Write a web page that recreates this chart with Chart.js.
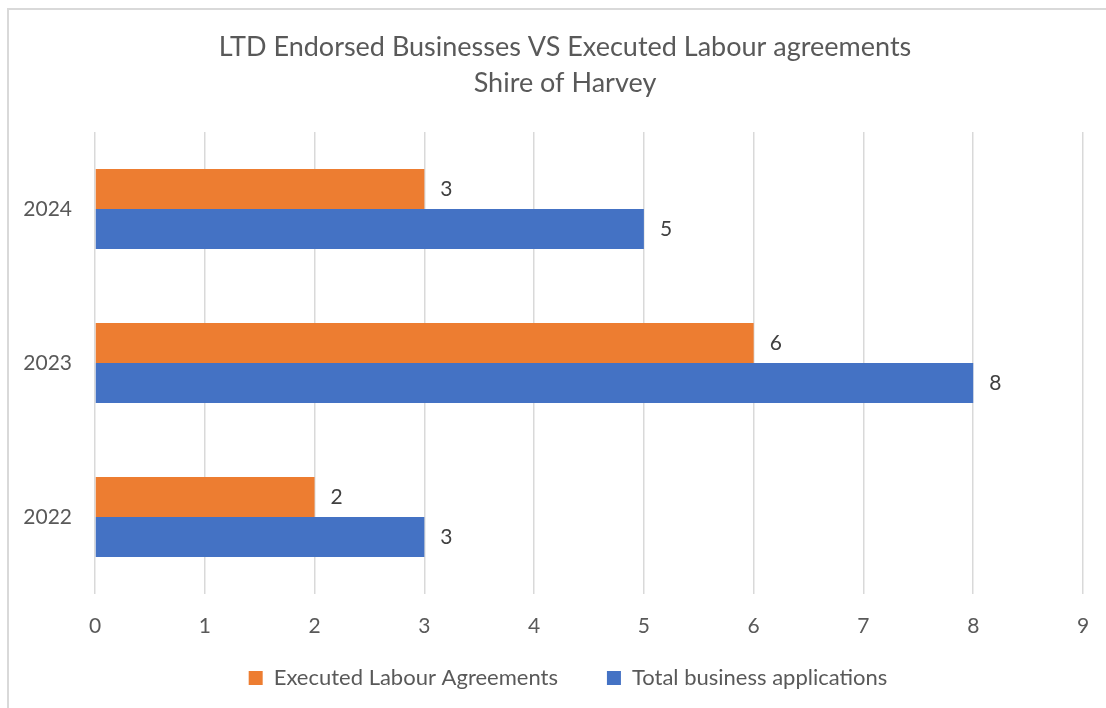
<!DOCTYPE html>
<html lang="en">
<head>
    <meta charset="UTF-8">
    <title>LTD Endorsed Businesses VS Executed Labour agreements</title>
    <script src="https://cdn.jsdelivr.net/npm/chart.js@4.4.1/dist/chart.umd.min.js"></script>
    <style>
        body {
            margin: 0;
            background: #ffffff;
            overflow: hidden;
        }
        /* the original picture is cut off on the right, so the chart is a bit wider than the window */
        .chart-box {
            position: relative;
            width: 1130px;
            height: 708px;
        }
        .frame {
            position: absolute;
            left: 7px;
            top: 8px;
            right: 0;
            bottom: -10px;
            border-left: 2px solid #d9d9d9;
            border-top: 2px solid #d9d9d9;
            pointer-events: none;
        }
    </style>
</head>
<body>
    <div class="chart-box">
        <canvas id="labourChart"></canvas>
        <div class="frame"></div>
    </div>

    <script>
        // categories top to bottom, as in the picture
        const years = ['2024', '2023', '2022'];
        const executedAgreements = [3, 6, 2];
        const totalApplications = [5, 8, 3];
        const xTicks = [0, 1, 2, 3, 4, 5, 6, 7, 8, 9];

        const textColor = '#595959';
        const fontFamily = "Lato, 'Open Sans', sans-serif";
        const legendGap = 49;

        // value labels at the end of each bar
        const barLabels = {
            id: 'barLabels',
            afterDatasetsDraw(chart) {
                const ctx = chart.ctx;
                ctx.save();
                ctx.font = '21px ' + fontFamily;
                ctx.fillStyle = '#404040';
                ctx.textAlign = 'left';
                ctx.textBaseline = 'middle';
                chart.data.datasets.forEach((ds, i) => {
                    chart.getDatasetMeta(i).data.forEach((bar, j) => {
                        ctx.fillText(String(ds.data[j]), bar.x + 16, bar.y);
                    });
                });
                ctx.restore();
            }
        };

        // legend padding is large to space the two items apart;
        // grow the legend box upward so the items are not clipped
        const legendShift = {
            id: 'legendShift',
            afterLayout(chart) {
                const lg = chart.legend;
                if (!lg) return;
                lg.top = lg.bottom - (legendGap + 30);
                lg.height = lg.bottom - lg.top;
                lg.left += 3;
                lg.right += 3;
            }
        };

        const ctx = document.getElementById('labourChart').getContext('2d');
        new Chart(ctx, {
            type: 'bar',
            data: {
                labels: years,
                datasets: [
                    {
                        label: 'Executed Labour Agreements',
                        data: executedAgreements,
                        backgroundColor: '#ED7D31',
                        categoryPercentage: 0.52,
                        barPercentage: 1.0
                    },
                    {
                        label: 'Total business applications',
                        data: totalApplications,
                        backgroundColor: '#4472C4',
                        categoryPercentage: 0.52,
                        barPercentage: 1.0
                    }
                ]
            },
            options: {
                indexAxis: 'y',
                responsive: true,
                maintainAspectRatio: false,
                animation: false,
                layout: {
                    padding: { left: 0, right: 0, top: 0, bottom: 11 }
                },
                plugins: {
                    title: {
                        display: true,
                        text: ['LTD Endorsed Businesses VS Executed Labour agreements', 'Shire of Harvey'],
                        color: textColor,
                        font: { size: 27, family: fontFamily, weight: 'normal', lineHeight: 1.3333 },
                        padding: { top: 29, bottom: 31 }
                    },
                    legend: {
                        position: 'bottom',
                        maxHeight: 40,
                        labels: {
                            color: textColor,
                            font: { size: 22, family: fontFamily },
                            boxWidth: 14,
                            boxHeight: 14,
                            padding: legendGap
                        }
                    },
                    tooltip: { enabled: false }
                },
                scales: {
                    x: {
                        min: 0,
                        max: 9,
                        afterBuildTicks(scale) {
                            scale.ticks = xTicks.map(v => ({ value: v }));
                        },
                        grid: { color: '#d9d9d9', lineWidth: 1.5, drawTicks: false },
                        border: { display: false },
                        ticks: {
                            color: textColor,
                            font: { size: 21, family: fontFamily },
                            padding: 20
                        },
                        afterFit(scale) {
                            scale.height = 63;
                            scale.paddingLeft = 0;
                            scale.paddingRight = 47;
                        }
                    },
                    y: {
                        grid: { display: false, drawTicks: false },
                        border: { display: false },
                        ticks: {
                            color: textColor,
                            font: { size: 21, family: fontFamily },
                            padding: 23
                        },
                        afterFit(scale) {
                            scale.width = 95;
                        }
                    }
                }
            },
            plugins: [barLabels, legendShift]
        });
    </script>
</body>
</html>
